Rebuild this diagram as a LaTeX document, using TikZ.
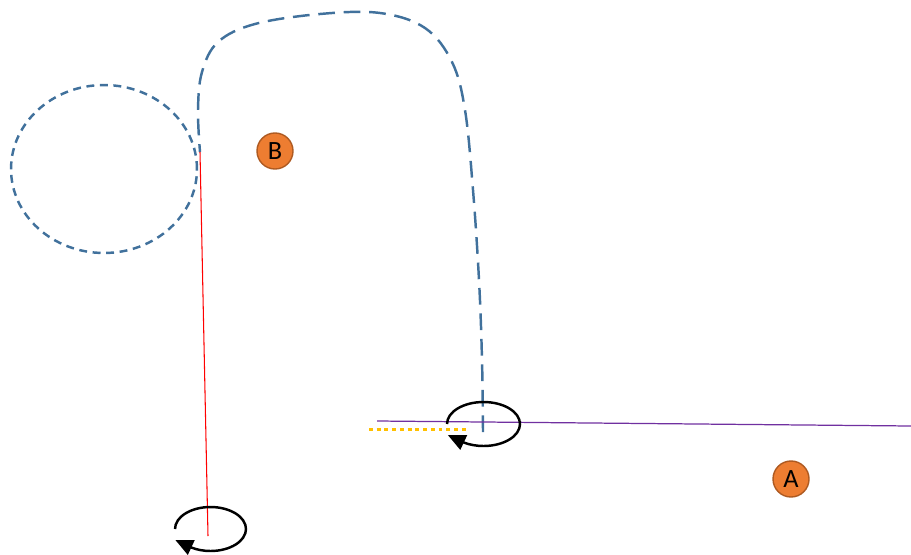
\documentclass[tikz,border=0pt]{standalone}
\usepackage{fontspec}
\setmainfont{Carlito}
\usetikzlibrary{arrows.meta}

\definecolor{routeblue}{HTML}{41719C}
\definecolor{markfill}{HTML}{ED7D31}
\definecolor{markline}{HTML}{AE5A21}
\definecolor{axisviolet}{HTML}{7030A0}
\definecolor{gold}{HTML}{FFC000}

\begin{document}
\begin{tikzpicture}[
		x=0.02cm, y=-0.02cm,
		route/.style={routeblue, line width=1.4pt, dash pattern=on 9.5pt off 5pt},
		orbit/.style={routeblue, line width=1.4pt, dash pattern=on 4.5pt off 3.2pt},
		spin/.style={line width=1.4pt, -{Triangle[length=10pt,width=9pt]}}]
	\tikzstyle{marker}=[circle,draw=markline,fill=markfill,line width=0.8pt,
		minimum size=20.5pt,inner sep=0,font=\fontsize{15}{17}\selectfont]
	\useasboundingbox (0,0) rectangle (911,554);

	% fixed points
	\coordinate (pivotA) at (483.5,424);
	\coordinate (pivotB) at (210.5,529);
	\coordinate (foot) at (208,536);
	\coordinate (hook) at (200,152);

	% dashed loop and route
	\draw[orbit] (104,169) ellipse[x radius=1.86cm, y radius=1.68cm];
	\draw[route] plot[smooth, tension=0.6] coordinates {(483,432) (482,360) (479,280)
		(473,190) (465,110) (452,62) (425,28) (380,13) (320,14) (255,24)
		(218,42) (202,72) (198,110) (200,152)};

	% lines
	\draw[red, line width=0.6pt] (hook) -- (foot);
	\coordinate (violetL) at (377,421);
	\coordinate (violetR) at (911,426);
	\draw[axisviolet, line width=0.7pt] (violetL) -- (violetR);
	\coordinate (goldL) at (369,429);
	\coordinate (goldR) at (467,429);
	\draw[gold, line width=1.7pt, dash pattern=on 2.2pt off 2.2pt] (goldL) -- (goldR);

	% spin arrows
	\draw[spin] (pivotA) ++(-0.73cm,0) arc[start angle=180, end angle=-122,
		x radius=0.73cm, y radius=0.44cm] -- ++(155:0.36cm);
	\draw[spin] (pivotB) ++(-0.71cm,0) arc[start angle=180, end angle=-122,
		x radius=0.71cm, y radius=0.44cm] -- ++(155:0.36cm);

	% labels
	\node[marker] (B) at (275,151) {B};
	\node[marker] (A) at (791,479) {A};
\end{tikzpicture}
\end{document}
